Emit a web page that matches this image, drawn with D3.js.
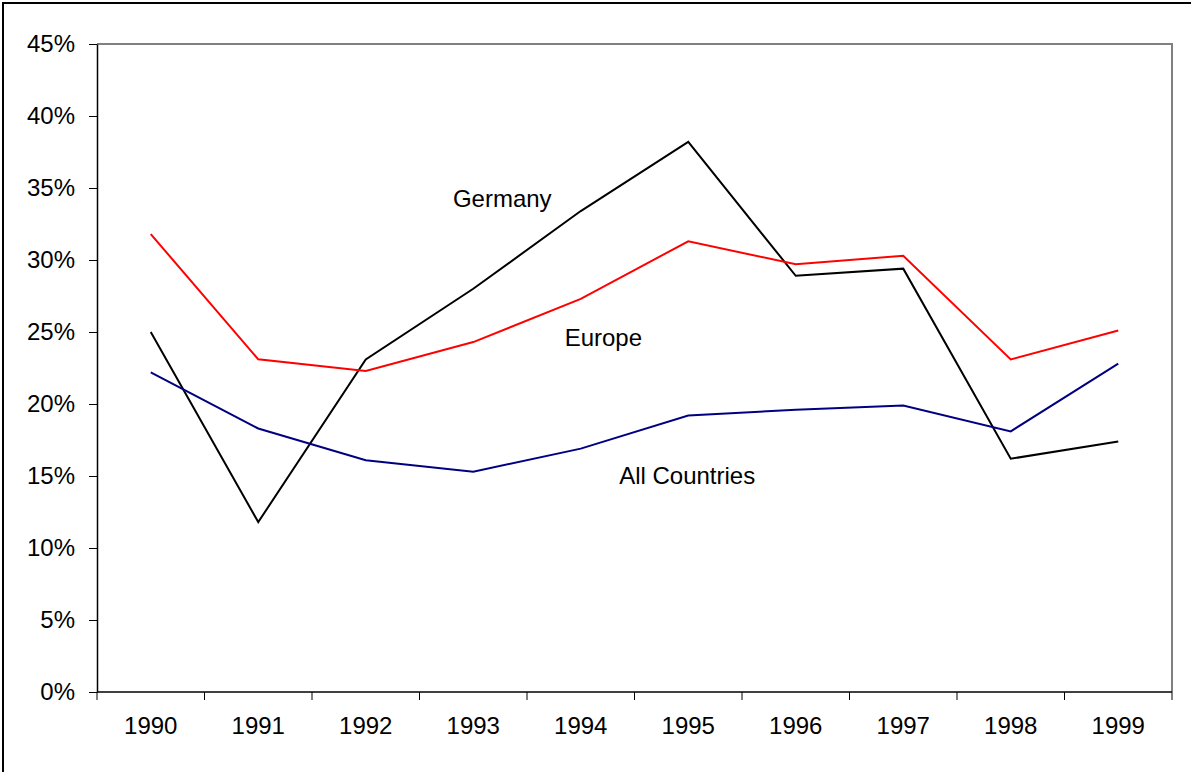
<!DOCTYPE html>
<html>
<head>
<meta charset="utf-8">
<script src="https://cdn.jsdelivr.net/npm/d3@7.9.0/dist/d3.min.js"></script>
<style>
  body { margin: 0; background: #fff; }
  svg { display: block; font-family: "Liberation Sans", Arial, sans-serif; }
</style>
</head>
<body>
<svg id="chart" width="1191" height="772"></svg>
<script>
// data (percent)
const years = ["1990", "1991", "1992", "1993", "1994", "1995", "1996", "1997", "1998", "1999"];
const germany = [25.0, 11.8, 23.1, 28.0, 33.4, 38.2, 28.9, 29.4, 16.2, 17.4];
const europe = [31.8, 23.1, 22.3, 24.3, 27.3, 31.3, 29.7, 30.3, 23.1, 25.1];
const allCountries = [22.2, 18.3, 16.1, 15.3, 16.9, 19.2, 19.6, 19.9, 18.1, 22.8];
const yTicks = [0, 5, 10, 15, 20, 25, 30, 35, 40, 45];

// label anchor: [year position, value] of the text baseline centre
const series = [
  { name: "Germany", values: germany, color: "#000000", label: [1993.27, 33.7] },
  { name: "Europe", values: europe, color: "#ff0000", label: [1994.21, 24.0] },
  { name: "All Countries", values: allCountries, color: "#000080", label: [1994.99, 14.42] }
];

const svg = d3.select("#chart");
const plotL = 97, plotR = 1172, plotT = 44, plotB = 692;
const fontSize = 24;

// outer frame
svg.append("rect")
  .attr("x", 3).attr("y", 3).attr("width", 1200).attr("height", 800)
  .attr("fill", "none").attr("stroke", "#000").attr("stroke-width", 2);

const x = d3.scaleBand().domain(years).range([plotL, plotR]);
const y = d3.scaleLinear().domain([0, 45]).range([plotB, plotT]);
// continuous year scale for label placement
const xc = d3.scaleLinear().domain([1990, 1999]).range([x("1990") + x.bandwidth() / 2, x("1999") + x.bandwidth() / 2]);

// plot area top/right border (gray)
svg.append("path")
  .attr("d", `M${plotL},${plotT}H${plotR}V${plotB}`)
  .attr("fill", "none").attr("stroke", "#808080").attr("stroke-width", 2);

// y axis
const yAxis = svg.append("g")
  .attr("transform", `translate(${plotL},0)`)
  .call(d3.axisLeft(y).tickValues(yTicks).tickFormat(d => d + "%").tickSize(8).tickSizeOuter(0));
yAxis.select(".domain").attr("stroke", "#000").attr("stroke-width", 1.5);
yAxis.selectAll(".tick line").attr("stroke", "#000");
yAxis.selectAll(".tick text")
  .attr("x", -22).attr("font-size", fontSize).attr("fill", "#000")
  .attr("font-family", "Liberation Sans, Arial, sans-serif");

// x axis: ticks at band boundaries, labels at centres
const xAxis = svg.append("g").attr("transform", `translate(0,${plotB})`);
xAxis.append("line")
  .attr("x1", plotL).attr("x2", plotR).attr("y1", 0).attr("y2", 0)
  .attr("stroke", "#000").attr("stroke-width", 1.5);
const edges = years.map(d => x(d)).concat([plotR]);
xAxis.selectAll(".edge").data(edges).join("line")
  .attr("class", "edge")
  .attr("x1", d => d).attr("x2", d => d).attr("y1", 0).attr("y2", 8)
  .attr("stroke", "#000");
xAxis.selectAll(".lab").data(years).join("text")
  .attr("class", "lab")
  .attr("x", d => x(d) + x.bandwidth() / 2)
  .attr("y", 42)
  .attr("text-anchor", "middle")
  .attr("font-size", fontSize)
  .text(d => d);

// lines
const line = d3.line()
  .x((d, i) => x(years[i]) + x.bandwidth() / 2)
  .y(d => y(d));

series.forEach(s => {
  svg.append("path")
    .datum(s.values)
    .attr("d", line)
    .attr("fill", "none")
    .attr("stroke", s.color)
    .attr("stroke-width", 2);
  svg.append("text")
    .attr("x", xc(s.label[0]))
    .attr("y", y(s.label[1]))
    .attr("text-anchor", "middle")
    .attr("font-size", fontSize)
    .text(s.name);
});
</script>
</body>
</html>
